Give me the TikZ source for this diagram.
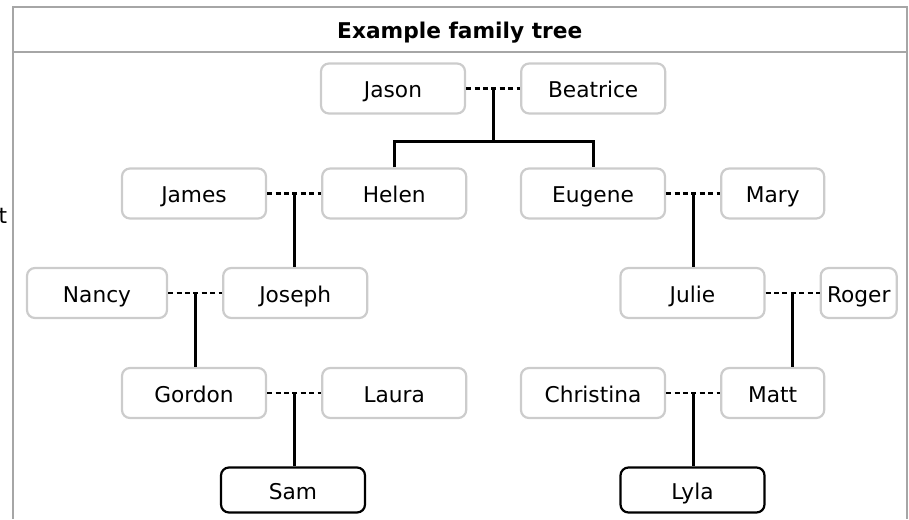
\documentclass[tikz,border=0pt]{standalone}
\usepackage{fontspec}
\setmainfont{DejaVu Sans}
\usetikzlibrary{positioning}

\begin{document}
\begin{tikzpicture}
      [ x=1pt, y=-1pt, node distance=54pt,
        every node/.style={font=\fontsize{21.7}{26}\selectfont},
        person/.style={draw=black!20, line width=2.2pt, rounded corners=8pt,
                       minimum width=144pt, minimum height=50pt, inner sep=0pt,
                       text height=20pt, text depth=2pt},
        narrow/.style={minimum width=103pt},
        child/.style={person, draw=black, minimum height=45pt},
        couple/.style={dash pattern=on 5pt off 3.4pt, line width=2.5pt},
        descent/.style={line width=3pt}
      ]
      \useasboundingbox (0,0) rectangle (909,519);

      % frame and title
      \draw[black!35, line width=2pt] (13,519) |- (906.5,7.5) -- (906.5,519);
      \draw[black!35, line width=2pt] (13,52.5) -- (906.5,52.5);
      \node[font=\fontsize{21.7}{26}\selectfont\bfseries] (title) at (459.75,33) {Example family tree};
      \node (cut) at (3,216) {t};

      % people
      \node[person]                   (jason)     at (393,88.5)   {Jason};
      \node[person, right=of jason]   (beatrice)                  {Beatrice};
      \node[person]                   (james)     at (194,193.5)  {James};
      \node[person, right=of james]   (helen)                     {Helen};
      \node[person]                   (eugene)    at (593,193.5)  {Eugene};
      \node[person, narrow, right=of eugene] (mary)               {Mary};
      \node[person, minimum width=140pt] (nancy)  at (97,293)     {Nancy};
      \node[person, right=of nancy]   (joseph)                    {Joseph};
      \node[person]                   (julie)     at (692.5,293)  {Julie};
      \node[person, minimum width=76pt, right=of julie] (roger)   {Roger};
      \node[person]                   (gordon)    at (194,393)    {Gordon};
      \node[person, right=of gordon]  (laura)                     {Laura};
      \node[person]                   (christina) at (593,393)    {Christina};
      \node[person, narrow, right=of christina] (matt)            {Matt};
      \node[child]                    (sam)       at (293,490)    {Sam};
      \node[child]                    (lyla)      at (692.5,490)  {Lyla};

      % couples
      \draw[couple] (jason)     -- coordinate (jb) (beatrice);
      \draw[couple] (james)     -- coordinate (jh) (helen);
      \draw[couple] (eugene)    -- coordinate (em) (mary);
      \draw[couple] (nancy)     -- coordinate (nj) (joseph);
      \draw[couple] (julie)     -- coordinate (jr) (roger);
      \draw[couple] (gordon)    -- coordinate (gl) (laura);
      \draw[couple] (christina) -- coordinate (cm) (matt);

      % children
      \draw[descent] (jb) -- ++(0,52.5) coordinate (jbkids);
      \draw[descent] (helen.north) |- (jbkids) -| (eugene.north);
      \draw[descent] (jh) -- (jh |- joseph.north);
      \draw[descent] (em) -- (em |- julie.north);
      \draw[descent] (nj) -- (nj |- gordon.north);
      \draw[descent] (jr) -- (jr |- matt.north);
      \draw[descent] (gl) -- (gl |- sam.north);
      \draw[descent] (cm) -- (cm |- lyla.north);
\end{tikzpicture}
\end{document}
